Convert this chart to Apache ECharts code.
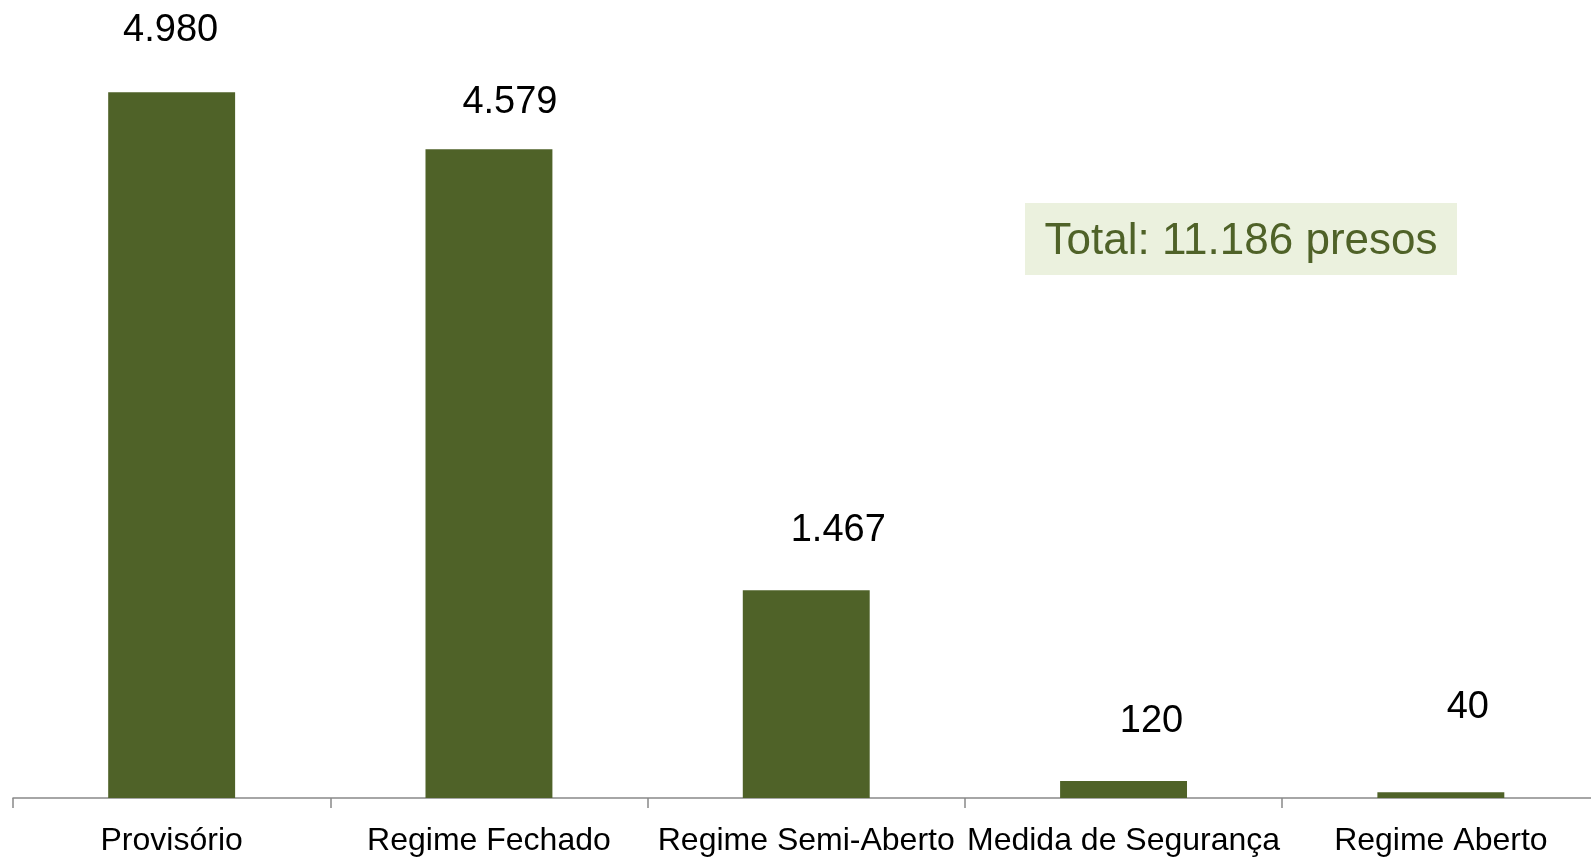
<!DOCTYPE html>
<html>
<head>
<meta charset="utf-8">
<script src="https://cdn.jsdelivr.net/npm/echarts@6/dist/echarts.min.js"></script>
<style>
  html, body { margin: 0; padding: 0; background: #fff; }
  #chart { width: 1591px; height: 857px; }
</style>
</head>
<body>
<div id="chart"></div>
<script>
// data
var categories = ["Provisório", "Regime Fechado", "Regime Semi-Aberto", "Medida de Segurança", "Regime Aberto"];
var presos = [4980, 4579, 1467, 120, 40];
var totalText = "Total: 11.186 presos";

// label nudges (px) so the value labels sit where the original has them
var labelShift = [[-1, -43], [21, -28], [32, -41], [28, -40], [27, -66]];

function fmt(v) {
  return String(v).replace(/\B(?=(\d{3})+(?!\d))/g, ".");
}

var chart = echarts.init(document.getElementById("chart"));

var barData = presos.map(function (v, i) {
  return {
    value: v,
    label: { offset: labelShift[i] }
  };
});

chart.setOption({
  animation: false,
  grid: { left: 13, top: 89.5, width: 1586.5, bottom: 59, containLabel: false, outerBoundsMode: "none" },
  xAxis: {
    type: "category",
    data: categories,
    axisLine: { show: true, lineStyle: { color: "#898989", width: 1.5 } },
    axisTick: { show: true, length: 10, lineStyle: { color: "#898989", width: 1.5 } },
    axisLabel: {
      interval: 0,
      margin: 27,
      color: "#000",
      fontFamily: "Liberation Sans, Arial, sans-serif",
      fontSize: 32
    }
  },
  yAxis: {
    type: "value",
    min: 0,
    max: 5000,
    show: false,
    splitLine: { show: false }
  },
  series: [
    {
      type: "bar",
      data: barData,
      barWidth: "40%",
      itemStyle: { color: "#4f6228" },
      label: {
        show: true,
        position: "top",
        distance: 0,
        color: "#000",
        fontFamily: "Liberation Sans, Arial, sans-serif",
        fontSize: 38,
        lineHeight: 38,
        formatter: function (p) { return fmt(p.value); }
      }
    }
  ],
  graphic: [
    {
      type: "rect",
      shape: { x: 1025, y: 203, width: 432, height: 72 },
      style: { fill: "#ebf1de" }
    },
    {
      type: "text",
      x: 1241,
      y: 242,
      style: {
        text: totalText,
        fill: "#4f6228",
        font: "44px 'Liberation Sans', Arial, sans-serif",
        textAlign: "center",
        textVerticalAlign: "middle"
      }
    }
  ]
});
</script>
</body>
</html>
